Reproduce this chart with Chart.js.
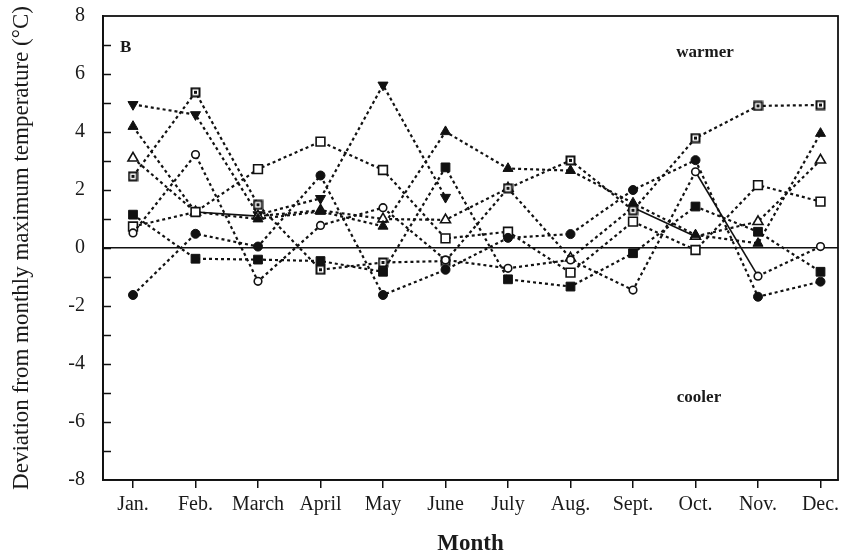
<!DOCTYPE html>
<html>
<head>
<meta charset="utf-8">
<script src="https://cdn.jsdelivr.net/npm/chart.js@4/dist/chart.umd.min.js"></script>
<style>
  html, body { margin: 0; padding: 0; background: #fff; }
  #wrap { width: 854px; height: 558px; }
</style>
</head>
<body>
<div id="wrap"><canvas id="c" width="854" height="558"></canvas></div>
<script>
// Month categories along the x axis
const months = ['Jan.', 'Feb.', 'March', 'April', 'May', 'June', 'July', 'Aug.', 'Sept.', 'Oct.', 'Nov.', 'Dec.'];

// Labelled y values (°C deviation)
const yTickLabels = [-8, -6, -4, -2, 0, 2, 4, 6, 8];

// Deviation series, one value per month
const filledCircle   = [-1.62, 0.49, 0.05, 2.50, -1.62, -0.75, 0.35, 0.48, 2.00, 3.03, -1.68, -1.16];
const openCircle     = [0.52, 3.22, -1.15, 0.78, 1.39, -0.41, -0.70, -0.41, -1.45, 2.63, -0.97, 0.05];
const filledSquare   = [1.15, -0.37, -0.40, -0.45, -0.82, 2.78, -1.08, -1.33, -0.18, 1.43, 0.56, -0.82];
const openSquare     = [0.74, 1.24, 2.72, 3.67, 2.69, 0.33, 0.56, -0.85, 0.91, -0.07, 2.17, 1.60];
const dotSquare      = [2.47, 5.37, 1.49, -0.75, -0.50, -0.45, 2.06, 3.02, 1.30, 3.79, 4.90, 4.93];
const filledTriangle = [4.19, 1.24, 1.00, 1.26, 0.75, 4.01, 2.74, 2.67, 1.55, 0.45, 0.16, 3.95];
const openTriangle   = [3.10, 1.24, 1.10, 1.30, 1.00, 0.97, 2.06, -0.35, 1.40, 0.40, 0.91, 3.03];
const downTriangle   = [4.95, 4.60, 1.15, 1.71, 5.62, 1.75, null, null, null, null, null, null];

// Segments (by starting month index) drawn with a continuous line
const solidOpenTriangle = [1, 8];
const solidOpenCircle = [9];

// Square marker with a dark centre dot
function makeDotSquare() {
  const cv = document.createElement('canvas');
  cv.width = 11; cv.height = 11;
  const g = cv.getContext('2d');
  g.fillStyle = '#fff';
  g.fillRect(1, 1, 9, 9);
  g.strokeStyle = '#111';
  g.lineWidth = 2;
  g.strokeRect(1.5, 1.5, 8, 8);
  g.fillStyle = '#111';
  g.fillRect(4, 4, 3, 3);
  return cv;
}

const toPoints = arr => arr.map((v, i) => ({ x: i, y: v }));

const ink = '#111';
function series(values, style, filled, radius, extra) {
  return Object.assign({
    data: toPoints(values),
    borderColor: ink,
    borderWidth: 2.2,
    borderDash: [3, 3],
    borderCapStyle: 'butt',
    pointStyle: style,
    pointRadius: radius,
    pointHoverRadius: radius,
    pointBackgroundColor: filled ? ink : '#fff',
    pointBorderColor: ink,
    pointBorderWidth: filled ? 1 : 1.6,
    tension: 0,
    spanGaps: false,
    fill: false
  }, extra || {});
}

function solidAt(list) {
  return {
    segment: {
      borderDash: ctx => list.includes(ctx.p0DataIndex) ? [] : undefined,
      borderWidth: ctx => list.includes(ctx.p0DataIndex) ? 1.6 : undefined
    }
  };
}

const datasets = [
  series(filledCircle, 'circle', true, 4.5),
  series(openCircle, 'circle', false, 3.8, solidAt(solidOpenCircle)),
  series(filledSquare, 'rect', true, 6.2),
  series(openSquare, 'rect', false, 6.2),
  series(dotSquare, makeDotSquare(), false, 5.5),
  series(filledTriangle, 'triangle', true, 5.8),
  series(openTriangle, 'triangle', false, 5.8, solidAt(solidOpenTriangle)),
  series(downTriangle, 'triangle', true, 5.8, { pointRotation: 180 })
];

const serif = "'Liberation Serif', 'DejaVu Serif', serif";

// Frame, inward y ticks and text annotations
const framePlugin = {
  id: 'frame',
  beforeDraw(chart) {
    const c = chart.ctx;
    c.save();
    c.fillStyle = '#fff';
    c.fillRect(0, 0, chart.width, chart.height);
    c.restore();
  },
  afterDatasetsDraw(chart) {
    const { ctx: c, chartArea: a, scales: { y } } = chart;
    c.save();
    c.strokeStyle = ink;
    c.lineWidth = 1.8;
    c.strokeRect(a.left, a.top, a.right - a.left, a.bottom - a.top);
    c.lineWidth = 1.5;
    for (let v = -7; v <= 7; v++) {
      const py = Math.round(y.getPixelForValue(v)) + 0.5;
      c.beginPath();
      c.moveTo(a.left, py);
      c.lineTo(a.left + 8, py);
      c.stroke();
    }
    c.fillStyle = '#1a1a1a';
    c.textBaseline = 'middle';
    c.font = 'bold 17px ' + serif;
    c.textAlign = 'left';
    c.fillText('B', a.left + 17, a.top + 32);
    c.textAlign = 'center';
    c.fillText('warmer', 705, 53);
    c.fillText('cooler', 699, 398);
    c.restore();
  }
};

new Chart(document.getElementById('c'), {
  type: 'line',
  data: { datasets },
  plugins: [framePlugin],
  options: {
    responsive: false,
    animation: false,
    events: [],
    layout: { padding: { top: 16, right: 16, left: 0, bottom: 0 } },
    plugins: { legend: { display: false }, tooltip: { enabled: false } },
    scales: {
      x: {
        type: 'linear',
        min: -0.48,
        max: 11.28,
        afterFit: s => { s.height = 78; s.paddingLeft = 0; s.paddingRight = 0; },
        ticks: {
          stepSize: 1,
          includeBounds: false,
          autoSkip: false,
          maxRotation: 0,
          padding: 5,
          color: '#1a1a1a',
          font: { family: serif, size: 20 },
          callback: v => months[v] !== undefined ? months[v] : ''
        },
        grid: { drawOnChartArea: false, drawTicks: true, tickLength: 8, color: ink, lineWidth: 1.5 },
        border: { display: true, color: ink, width: 1.8 },
        title: {
          display: true,
          text: 'Month',
          color: '#1a1a1a',
          font: { family: serif, size: 23, weight: 'bold' },
          padding: { top: 0, bottom: 0 }
        }
      },
      y: {
        min: -8,
        max: 8,
        afterFit: s => { s.width = 103; s.paddingTop = 0; s.paddingBottom = 0; },
        afterBuildTicks: s => { s.ticks = yTickLabels.map(v => ({ value: v })); },
        ticks: {
          padding: 18,
          color: '#1a1a1a',
          font: { family: serif, size: 20 },
          callback: v => String(v)
        },
        grid: {
          drawTicks: false,
          color: ctx => (ctx.tick && ctx.tick.value === 0) ? ink : 'rgba(0,0,0,0)',
          lineWidth: 1.6
        },
        border: { display: true, color: ink, width: 1.8 },
        title: {
          display: true,
          text: 'Deviation from monthly maximum temperature (°C)',
          color: '#1a1a1a',
          font: { family: serif, size: 23 },
          padding: { top: 8, bottom: 0 }
        }
      }
    }
  }
});
</script>
</body>
</html>
